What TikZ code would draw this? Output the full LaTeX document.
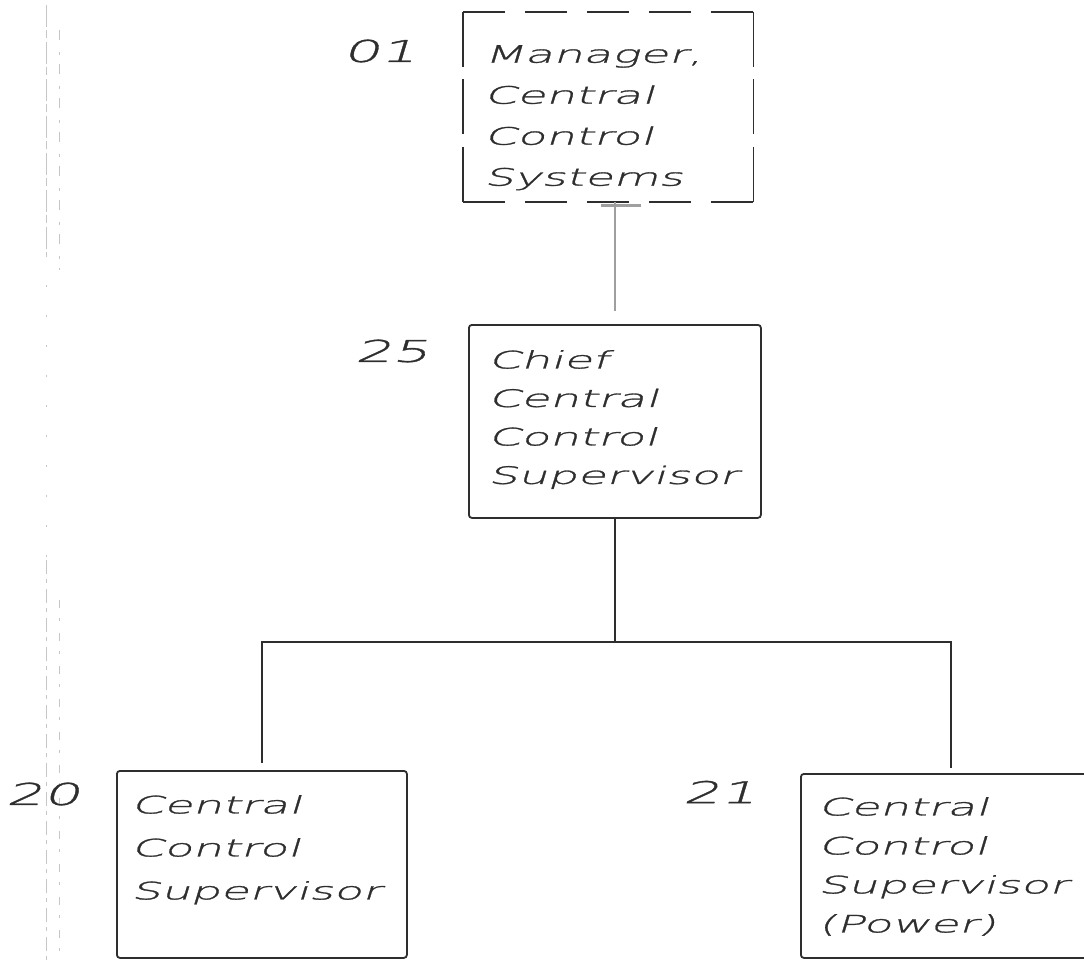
\documentclass[tikz,border=0pt]{standalone}
\usepackage{fontspec}
\newfontfamily\hand[FakeSlant=0.3,FakeStretch=1.95,FakeBold=1.2]{DejaVu Sans ExtraLight}
\usetikzlibrary{calc}
\definecolor{ink}{HTML}{2E2E2E}
\begin{document}
\begin{tikzpicture}[x=1pt,y=1pt,
  box/.style={draw=ink,line width=1.8pt,rounded corners=3pt,inner sep=0pt,anchor=north west},
  frame/.style={inner sep=0pt,anchor=north west},
  dashside/.style={draw=ink,line width=1.8pt,line cap=square},
  words/.style={text=ink,align=left,inner sep=0pt,anchor=north west,
    font=\hand\fontsize{24}{#1}\selectfont},
  tag/.style={text=ink,inner sep=0pt,font=\hand\fontsize{30}{30}\selectfont},
  link/.style={draw=ink,line width=1.8pt},
  feed/.style={draw=gray!75,line width=1.6pt},
  margin/.style={draw=gray!45,line width=0.8pt},
]
\useasboundingbox (0,0) rectangle (1084,-960);

% faint margin rules at the left edge of the sheet
\draw[margin,dash pattern=on 22pt off 3pt on 8pt off 4pt] (46,-5) -- (46,-255);
\draw[margin,dash pattern=on 2pt off 28pt] (46,-255) -- (46,-560);
\draw[margin,dash pattern=on 14pt off 5pt on 4pt off 6pt] (46,-560) -- (46,-960);
\draw[margin,dash pattern=on 10pt off 12pt on 3pt off 9pt] (59,-30) -- (59,-270);
\draw[margin,dash pattern=on 8pt off 10pt on 3pt off 12pt] (59,-600) -- (59,-960);

% top position: dashed frame
\node[frame,minimum width=290pt,minimum height=190pt] (mgr) at (463,-12) {};
\draw[dashside,dash pattern=on 42pt off 20pt] (mgr.north west) -- (mgr.north east);
\draw[dashside,dash pattern=on 42pt off 20pt] (mgr.south west) -- (mgr.south east);
\draw[dashside,dash pattern=on 55pt off 12.5pt] (mgr.north west) -- (mgr.south west);
\draw[dashside,dash pattern=on 55pt off 12.5pt] (mgr.north east) -- (mgr.south east);

% solid boxes
\node[box,minimum width=292pt,minimum height=193pt] (chief) at (468,-324) {};
\node[box,minimum width=290pt,minimum height=187pt] (sup) at (116,-770) {};
\node[box,minimum width=300pt,minimum height=184pt] (pow) at (800,-773) {};

% box texts
\node[words=41] (mgrtext) at (484,-45) {Manager,\\Central\\Control\\Systems};
\node[words=38.5] (chieftext) at (488,-350) {Chief\\Central\\Control\\Supervisor};
\node[words=43] (suptext) at (131,-795) {Central\\Control\\Supervisor};
\node[words=39] (powtext) at (818,-797) {Central\\Control\\Supervisor\\(Power)};

% position numbers
\node[tag] (n01) at (380,-51) {01};
\node[tag] (n25) at (392,-351) {25};
\node[tag] (n20) at (43,-794) {20};
\node[tag] (n21) at (720,-792) {21};

% connectors
\coordinate (drop) at (chief.north |- mgr.south);
\draw[feed,shorten >=13pt] (drop) -- (chief.north);
\draw[feed,line width=2.6pt] ($(drop)+(-14,-3)$) -- ++(40,0);
\draw[link] (chief.south) -- ++(0,-123) coordinate (bus);
\draw[link,shorten <=7pt,shorten >=5pt] (sup.north) |- (bus) -| (pow.north);
\end{tikzpicture}
\end{document}
